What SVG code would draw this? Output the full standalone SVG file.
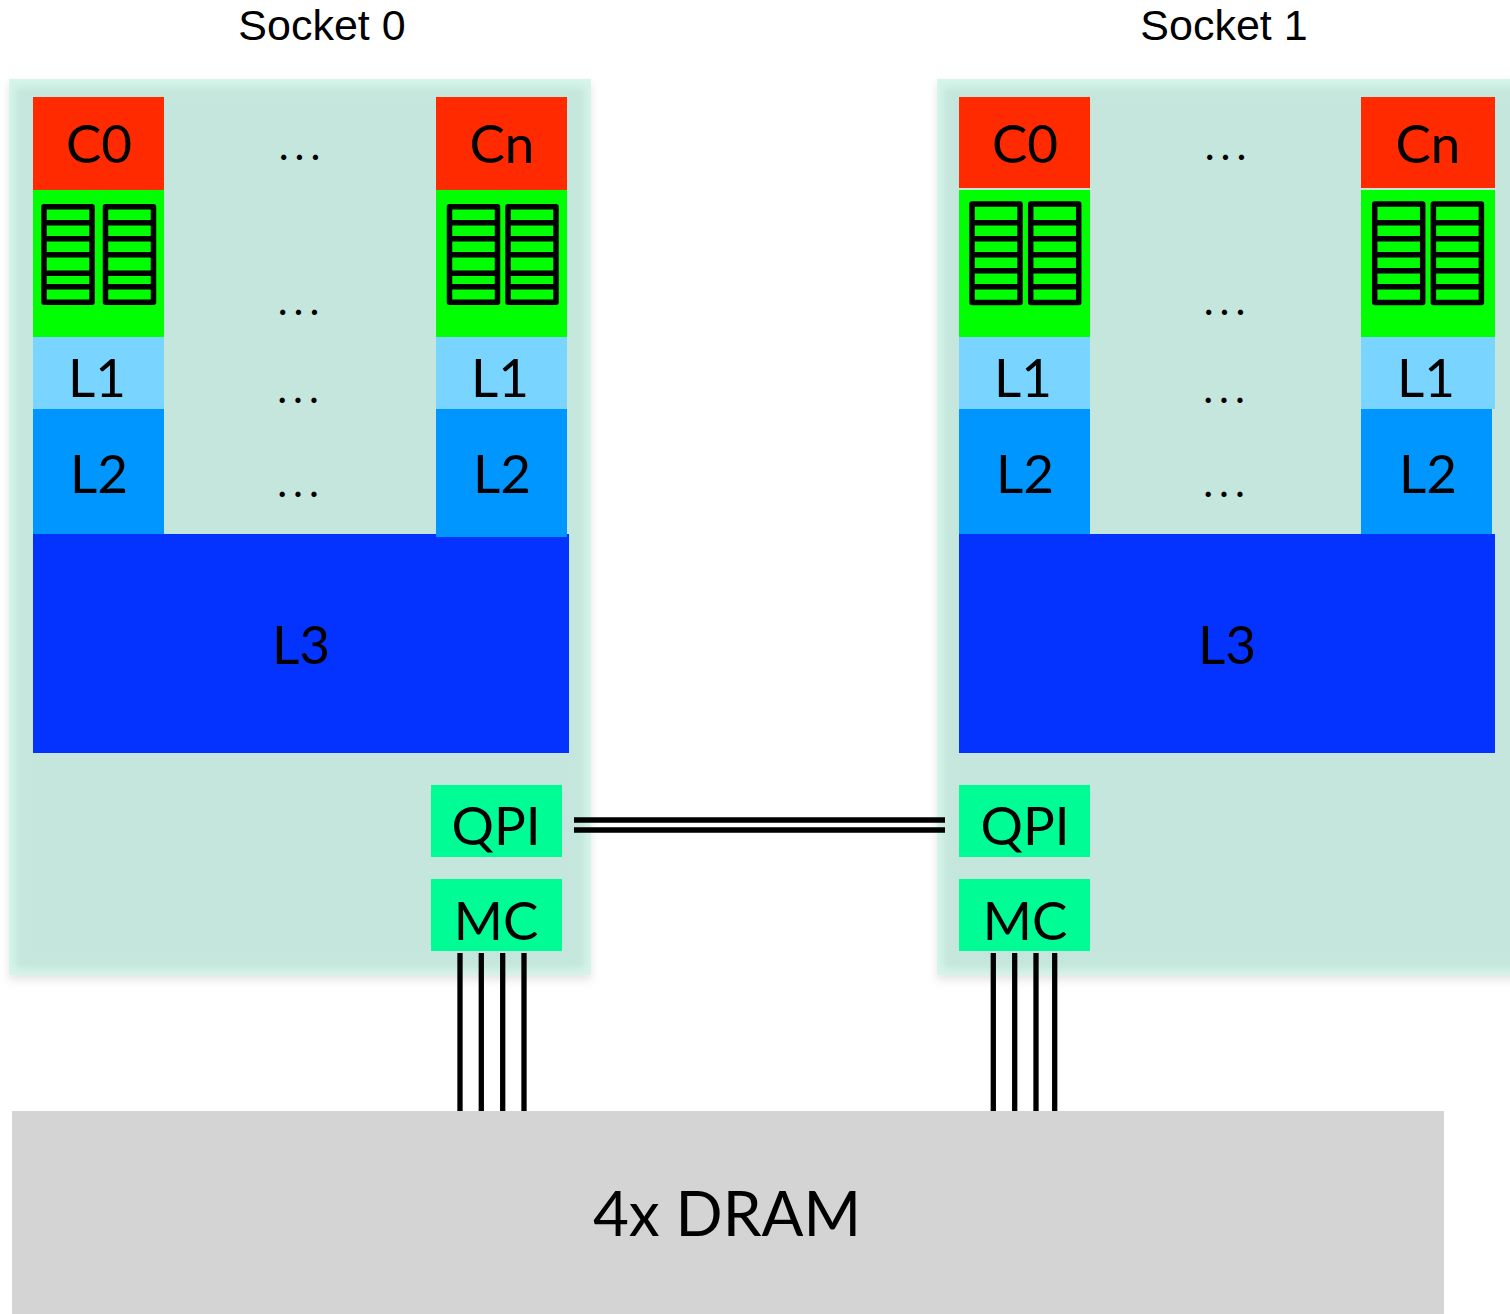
<svg xmlns="http://www.w3.org/2000/svg" xmlns:xlink="http://www.w3.org/1999/xlink" width="1510" height="1314" viewBox="0 0 1510 1314">
<style>
text{font-family:"Lato","Noto Sans",sans-serif;fill:#000;text-anchor:middle}
.t{font-size:53px}
.d{font-size:62px}
.s{font-family:"Liberation Sans",Arial,sans-serif;font-size:43px}
.dots{font-size:42px;letter-spacing:5.9px}
.core{fill:#ff2a00}.reg{fill:#00ff00}.l1{fill:#79d5ff}.l2{fill:#0096ff}.l3{fill:#0433ff}.io{fill:#00fd95}
.bank{fill:none;stroke:#000;stroke-width:5.5;stroke-linejoin:round}
.wire{stroke:#000;stroke-width:5.3;fill:none}
</style>
<defs>
<filter id="shadow" x="-5%" y="-5%" width="110%" height="110%"><feGaussianBlur stdDeviation="5"/></filter>
<filter id="inner" x="-5%" y="-5%" width="110%" height="110%"><feGaussianBlur stdDeviation="4"/></filter>
<clipPath id="cp0"><rect x="9" y="79" width="582" height="896"/></clipPath>
<clipPath id="cp1"><rect x="937" y="79" width="573" height="896"/></clipPath>
<g id="bank6">
<path class="bank" d="M0 0H48V98.6H0ZM0 18.7H48M0 34.7H48M0 50.7H48M0 66.7H48M0 82.7H48"/>
</g>
<g id="bank5">
<path class="bank" d="M0 0H48V95.6H0ZM0 16H48M0 32H48M0 48H48M0 66.6H48M0 80H48"/>
</g>
</defs>

<g id="socket0">
<rect x="9" y="84" width="582" height="896" fill="#888" opacity=".22" filter="url(#shadow)"/>
<rect x="9" y="79" width="582" height="896" fill="#d6f5ea"/>
<g clip-path="url(#cp0)"><rect x="15" y="87" width="570" height="882" fill="#c5e6dc" filter="url(#inner)"/></g>
<text class="s" x="322" y="40">Socket 0</text>
</g>
<g id="socket1">
<rect x="937" y="84" width="580" height="896" fill="#888" opacity=".22" filter="url(#shadow)"/>
<rect x="937" y="79" width="573" height="896" fill="#d6f5ea"/>
<g clip-path="url(#cp1)"><rect x="943" y="87" width="600" height="882" fill="#c5e6dc" filter="url(#inner)"/></g>
<text class="s" x="1224" y="40">Socket 1</text>
</g>

<g id="s0-c0">
<rect class="core" x="33" y="97" width="131" height="93"/><text class="t" x="99" y="163">C0</text>
<rect class="reg" x="33" y="190" width="131" height="147"/>
<use xlink:href="#bank5" href="#bank5" x="44" y="206.7"/><use xlink:href="#bank5" href="#bank5" x="105.5" y="206.7"/>
<rect class="l1" x="33" y="337" width="131" height="72"/><text class="t" x="97" y="397">L1</text>
<rect class="l2" x="33" y="409" width="131" height="125"/><text class="t" x="99" y="493">L2</text>
</g>
<g id="s0-cn">
<rect class="core" x="436" y="97" width="131" height="93"/><text class="t" x="502" y="163">Cn</text>
<rect class="reg" x="436" y="190" width="131" height="147"/>
<use xlink:href="#bank5" href="#bank5" x="449.5" y="206.7"/><use xlink:href="#bank5" href="#bank5" x="508" y="206.7"/>
<rect class="l1" x="436" y="337" width="131" height="72"/><text class="t" x="500" y="397">L1</text>
<rect class="l2" x="436" y="409" width="131" height="128"/><text class="t" x="502" y="493">L2</text>
</g>
<g id="s0-l3"><rect class="l3" x="33" y="534" width="536" height="219"/><text class="t" x="301" y="664">L3</text></g>
<rect class="l2" x="436" y="534" width="131" height="3"/>
<g id="s0-dots">
<text class="dots" x="302.5" y="160">...</text><text class="dots" x="301.5" y="315">...</text><text class="dots" x="301" y="403">...</text><text class="dots" x="301" y="497">...</text>
</g>
<g id="s0-qpi"><rect class="io" x="431" y="785" width="131" height="72"/><text class="t" x="496" y="845">QPI</text></g>
<g id="s0-mc"><rect class="io" x="431" y="879" width="131" height="72"/><text class="t" x="496" y="940">MC</text></g>

<g id="s1-c0">
<rect class="core" x="959" y="97" width="131" height="91"/><text class="t" x="1025" y="163">C0</text>
<rect class="reg" x="959" y="190" width="131" height="147"/>
<use xlink:href="#bank6" href="#bank6" x="972" y="204"/><use xlink:href="#bank6" href="#bank6" x="1030.7" y="204"/>
<rect class="l1" x="959" y="337" width="131" height="72"/><text class="t" x="1023" y="397">L1</text>
<rect class="l2" x="959" y="409" width="131" height="125"/><text class="t" x="1025" y="493">L2</text>
</g>
<g id="s1-cn">
<rect class="core" x="1361" y="97" width="134" height="91"/><text class="t" x="1428" y="163">Cn</text>
<rect class="reg" x="1361" y="190" width="134" height="147"/>
<use xlink:href="#bank6" href="#bank6" x="1374.7" y="204"/><use xlink:href="#bank6" href="#bank6" x="1433.4" y="204"/>
<rect class="l1" x="1361" y="337" width="134" height="72"/><text class="t" x="1426" y="397">L1</text>
<rect class="l2" x="1361" y="409" width="131" height="125"/><text class="t" x="1428" y="493">L2</text>
</g>
<g id="s1-l3"><rect class="l3" x="959" y="534" width="536" height="219"/><text class="t" x="1227" y="664">L3</text></g>
<g id="s1-dots">
<text class="dots" x="1228.5" y="160">...</text><text class="dots" x="1227.5" y="315">...</text><text class="dots" x="1227" y="403">...</text><text class="dots" x="1227" y="497">...</text>
</g>
<g id="s1-qpi"><rect class="io" x="959" y="785" width="131" height="72"/><text class="t" x="1025" y="845">QPI</text></g>
<g id="s1-mc"><rect class="io" x="959" y="879" width="131" height="72"/><text class="t" x="1025" y="940">MC</text></g>

<g id="dram"><rect x="12" y="1111" width="1432" height="203" fill="#d4d4d4"/><text class="d" x="727" y="1236">4x DRAM</text></g>

<g id="connectors">
<path class="wire" d="M574 820H945M574 830H945"/>
<path class="wire" d="M460 953V1111M481.3 953V1111M502.7 953V1111M524 953V1111"/>
<path class="wire" d="M993.3 953V1111M1014.7 953V1111M1036 953V1111M1054.7 953V1111"/>
</g>
</svg>
